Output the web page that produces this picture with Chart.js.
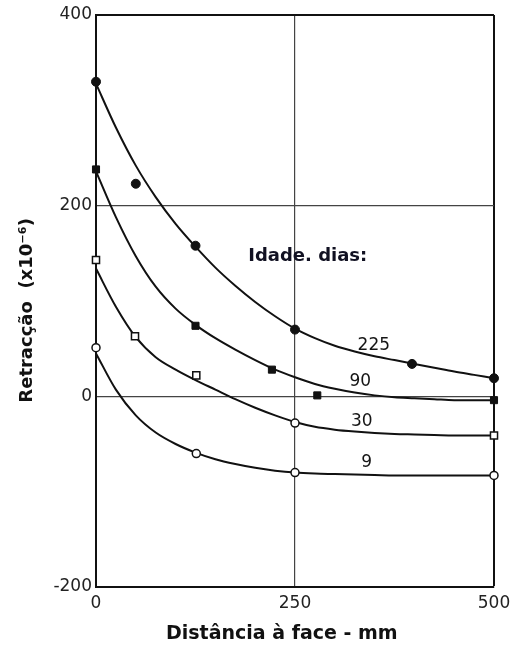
<!DOCTYPE html>
<html><head><meta charset="utf-8">
<script src="https://cdn.jsdelivr.net/npm/chart.js@4.4.1/dist/chart.umd.min.js"></script>
<style>html,body{margin:0;padding:0;background:#fff}#wrap{width:517px;height:648px;position:relative}</style>
</head><body><div id="wrap"><canvas id="c"></canvas></div>
<script>
// ---- data ----
const curveX   = [0, 25, 50, 75, 100, 125, 150, 175, 200, 225, 250, 275, 300, 325, 350, 375, 400, 425, 450, 475, 500];
const curve225 = [328, 282, 242, 209, 181, 157, 135, 116, 99, 84, 71, 61, 53, 47, 42, 38, 34, 30, 26, 22.5, 19];
const curve90  = [236, 188, 147, 115, 92, 75, 61, 49, 38, 28, 20, 13, 8, 4, 1, -1, -2, -3, -4, -4, -4];
const curve30  = [134, 94, 62, 41, 28, 17, 7, -3, -12, -20, -27, -32, -35, -37, -38.5, -39.5, -40, -40.5, -41, -41, -41];
const curve9   = [45, 7, -20, -38, -50, -59, -66, -71, -75, -78, -80, -81, -81.5, -82, -82.5, -83, -83, -83, -83, -83, -83];

const pts225X = [0, 50, 125, 250, 397, 500];
const pts225Y = [330, 223, 158, 70, 34, 19];
const pts90X  = [0, 125, 221, 278, 500];
const pts90Y  = [238, 74, 28, 1, -4];
const pts30X  = [0, 49, 126, 250, 500];
const pts30Y  = [143, 63, 22, -28, -41];
const pts30Style = ['rect', 'rect', 'rect', 'circle', 'rect'];
const pts30Size  = [5, 5, 5, 4, 5];
const pts9X   = [0, 126, 250, 500];
const pts9Y   = [51, -60, -80, -83];

const xTicks = [0, 250, 500];
const yTicks = [-200, 0, 200, 400];

const curveLabels  = ['225', '90', '30', '9'];
const curveLabelX  = [349, 332, 334, 340];
const curveLabelY  = [53, 16, -27, -70];
const ageTitle = 'Idade. dias:';
const ageTitleX = 266, ageTitleY = 147;

const xTitle = 'Distância à face - mm    ';
const yTitle = 'Retracção  (x10⁻⁶)   ';

// ---- build ----
const pts = (xs, ys) => xs.map((x, i) => ({x, y: ys[i]}));
const curve = ys => ({
  type: 'line', data: pts(curveX, ys), borderColor: '#111', borderWidth: 2,
  pointRadius: 0, cubicInterpolationMode: 'monotone', fill: false, clip: false
});
const marks = (xs, ys, style, fill, r, bw) => ({
  type: 'scatter', data: pts(xs, ys), pointStyle: style, pointRadius: r,
  backgroundColor: fill, borderColor: '#111', borderWidth: bw, clip: false
});

const labelPlugin = {
  id: 'curveLabels',
  afterDatasetsDraw(chart) {
    const {ctx, scales: {x, y}} = chart;
    ctx.save();
    ctx.fillStyle = '#151515';
    ctx.textAlign = 'center';
    ctx.textBaseline = 'middle';
    ctx.font = '17px "DejaVu Sans"';
    curveLabels.forEach((t, i) => ctx.fillText(t, x.getPixelForValue(curveLabelX[i]), y.getPixelForValue(curveLabelY[i])));
    ctx.fillStyle = '#111122';
    ctx.font = 'bold 18px "DejaVu Sans"';
    ctx.fillText(ageTitle, x.getPixelForValue(ageTitleX), y.getPixelForValue(ageTitleY));
    ctx.restore();
  }
};

const frameVal = (axis, v) => axis === 'x' ? v === 500 : v === 400;
const gridOpts = axis => ({
  drawTicks: false,
  color: c => frameVal(axis, c.tick && c.tick.value) ? '#111' : '#444',
  lineWidth: c => frameVal(axis, c.tick && c.tick.value) ? 2 : 1.2
});

new Chart(document.getElementById('c'), {
  data: {
    datasets: [
      marks(pts225X, pts225Y, 'circle', '#111', 4.5, 1),
      marks(pts90X, pts90Y, 'rect', '#111', 5, 1),
      marks(pts30X, pts30Y, pts30Style, '#fff', pts30Size, 1.5),
      marks(pts9X, pts9Y, 'circle', '#fff', 4, 1.5),
      curve(curve225), curve(curve90), curve(curve30), curve(curve9)
    ]
  },
  options: {
    responsive: true, maintainAspectRatio: false, animation: false,
    layout: {padding: {top: 15, right: 23, bottom: 0, left: 0}},
    plugins: {legend: {display: false}, tooltip: {enabled: false}},
    scales: {
      x: {
        type: 'linear', min: 0, max: 500,
        afterBuildTicks: s => { s.ticks = xTicks.map(v => ({value: v})); },
        afterFit: s => { s.height = 61; },
        ticks: {color: '#222', font: {family: 'DejaVu Sans', size: 17}, padding: 6, maxRotation: 0},
        grid: gridOpts('x'),
        border: {display: true, color: '#111', width: 2},
        title: {display: true, text: xTitle, color: '#111', font: {family: 'DejaVu Sans', size: 19, weight: 'bold'}, padding: {top: 0, bottom: 3}}
      },
      y: {
        type: 'linear', min: -200, max: 400,
        afterBuildTicks: s => { s.ticks = yTicks.map(v => ({value: v})); },
        afterFit: s => { s.width = 96; },
        ticks: {color: '#222', font: {family: 'DejaVu Sans', size: 17}, padding: 4},
        grid: gridOpts('y'),
        border: {display: true, color: '#111', width: 2},
        title: {display: true, text: yTitle, color: '#111', font: {family: 'DejaVu Sans', size: 18, weight: 'bold'}, padding: {top: 17, bottom: 0}}
      }
    }
  },
  plugins: [labelPlugin]
});
</script>
</body></html>
